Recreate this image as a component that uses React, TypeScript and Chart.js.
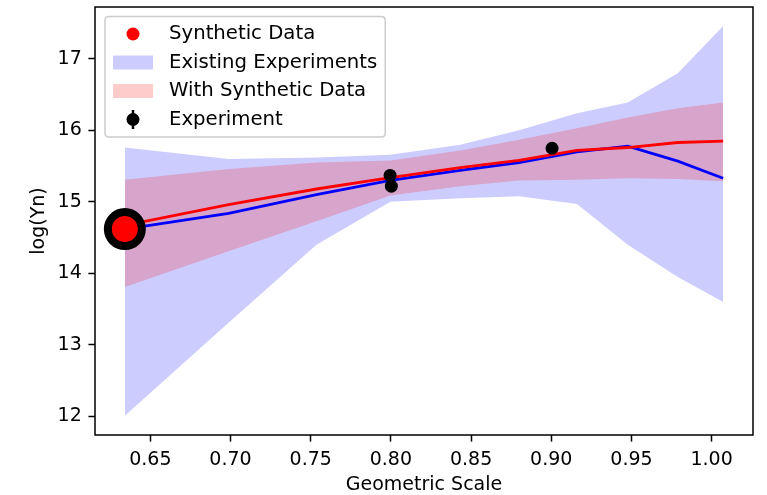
import React, { useEffect, useRef } from "react";
import { Chart, registerables } from "chart.js";

Chart.register(...registerables);

// ---- data ----
const geometricScale = [0.6341, 0.6988, 0.7536, 0.7997, 0.8432, 0.8799, 0.916, 0.9477, 0.9789, 1.0072];
const existingUpper = [15.76, 15.6, 15.62, 15.66, 15.8, 16.0, 16.24, 16.39, 16.8, 17.46];
const existingLower = [12.01, 13.31, 14.4, 15.0, 15.05, 15.08, 14.97, 14.4, 13.95, 13.6];
const existingMean = [14.62, 14.84, 15.1, 15.3, 15.44, 15.55, 15.7, 15.78, 15.57, 15.33];
const synthUpper = [15.31, 15.46, 15.55, 15.58, 15.72, 15.87, 16.03, 16.18, 16.31, 16.39];
const synthLower = [13.81, 14.31, 14.73, 15.09, 15.22, 15.3, 15.31, 15.33, 15.32, 15.29];
const synthMean = [14.67, 14.96, 15.18, 15.34, 15.48, 15.58, 15.72, 15.76, 15.83, 15.85];
const experimentX = [0.7995, 0.8003, 0.9005];
const experimentY = [15.37, 15.22, 15.75];
const syntheticX = [0.6341];
const syntheticY = [14.62];
const xTicks = [0.65, 0.7, 0.75, 0.8, 0.85, 0.9, 0.95, 1.0];
const yTicks = [12, 13, 14, 15, 16, 17];
const legendLabels = ["Synthetic Data", "Existing Experiments", "With Synthetic Data", "Experiment"];

const X_MIN = 0.6155;
const X_MAX = 1.0258;
const Y_MIN = 11.74;
const Y_MAX = 17.725;

const FONT = "DejaVu Sans";
const FS = 19;
const LEG_FS = 19.7;
const LEG_EM = 20;

const BLUE_FILL = "rgba(0,0,255,0.2)";
const RED_FILL = "rgba(255,0,0,0.2)";

const pts = (xs: number[], ys: number[]) => xs.map((x, i) => ({ x, y: ys[i] }));

const mplPlugin = {
  id: "mplFrame",
  afterDraw(chart: any) {
    const { ctx, chartArea } = chart;
    const { left, right, top, bottom } = chartArea;
    ctx.save();
    // spines
    ctx.strokeStyle = "black";
    ctx.lineWidth = 1.5;
    ctx.strokeRect(left, top, right - left, bottom - top);

    // legend
    const em = LEG_EM;
    ctx.font = `${LEG_FS}px "${FONT}"`;
    const bpad = 0.4 * em;
    const lx = left + 0.5 * em;
    const ly = top + 0.5 * 19;
    const handleX = lx + bpad;
    const handleW = 2 * em;
    const textX = handleX + handleW + 0.8 * em;
    let maxW = 0;
    legendLabels.forEach((l) => {
      maxW = Math.max(maxW, ctx.measureText(l).width);
    });
    const rowH = 19;
    const gap = 9.5;
    const w = textX + maxW + bpad - lx;
    const h = bpad * 2 + legendLabels.length * rowH + (legendLabels.length - 1) * gap;
    const r = 4;
    ctx.beginPath();
    ctx.moveTo(lx + r, ly);
    ctx.lineTo(lx + w - r, ly);
    ctx.quadraticCurveTo(lx + w, ly, lx + w, ly + r);
    ctx.lineTo(lx + w, ly + h - r);
    ctx.quadraticCurveTo(lx + w, ly + h, lx + w - r, ly + h);
    ctx.lineTo(lx + r, ly + h);
    ctx.quadraticCurveTo(lx, ly + h, lx, ly + h - r);
    ctx.lineTo(lx, ly + r);
    ctx.quadraticCurveTo(lx, ly, lx + r, ly);
    ctx.closePath();
    ctx.fillStyle = "rgba(255,255,255,0.8)";
    ctx.fill();
    ctx.strokeStyle = "#cccccc";
    ctx.lineWidth = 1.5;
    ctx.stroke();

    const cx = handleX + handleW / 2;
    legendLabels.forEach((label, i) => {
      const cy = ly + bpad + rowH / 2 + i * (rowH + gap);
      if (i === 0) {
        ctx.fillStyle = "red";
        ctx.beginPath();
        ctx.arc(cx, cy, 6.5, 0, Math.PI * 2);
        ctx.fill();
      } else if (i === 1 || i === 2) {
        ctx.fillStyle = i === 1 ? BLUE_FILL : RED_FILL;
        ctx.fillRect(handleX, cy - 0.35 * em, handleW, 0.7 * em);
      } else {
        ctx.strokeStyle = "black";
        ctx.lineWidth = 2.5;
        ctx.beginPath();
        ctx.moveTo(cx, cy - 9.5);
        ctx.lineTo(cx, cy + 9.5);
        ctx.stroke();
        ctx.fillStyle = "black";
        ctx.beginPath();
        ctx.arc(cx, cy, 6.5, 0, Math.PI * 2);
        ctx.fill();
      }
      ctx.fillStyle = "black";
      ctx.textBaseline = "middle";
      ctx.textAlign = "left";
      ctx.fillText(label, textX, cy);
    });
    ctx.restore();
  },
};

export default function App() {
  const ref = useRef<HTMLCanvasElement>(null);
  useEffect(() => {
    const canvas = ref.current!;
    const tickFont = { family: FONT, size: FS };
    const chart = new Chart(canvas, {
      type: "line",
      data: {
        datasets: [
          {
            label: "Existing upper",
            data: pts(geometricScale, existingUpper),
            fill: "+1",
            backgroundColor: BLUE_FILL,
            borderColor: "rgba(0,0,0,0)",
            borderWidth: 0,
            pointRadius: 0,
            order: 10,
          },
          {
            label: "Existing lower",
            data: pts(geometricScale, existingLower),
            fill: false,
            borderColor: "rgba(0,0,0,0)",
            borderWidth: 0,
            pointRadius: 0,
            order: 9,
          },
          {
            label: "Synthetic upper",
            data: pts(geometricScale, synthUpper),
            fill: "+1",
            backgroundColor: RED_FILL,
            borderColor: "rgba(0,0,0,0)",
            borderWidth: 0,
            pointRadius: 0,
            order: 8,
          },
          {
            label: "Synthetic lower",
            data: pts(geometricScale, synthLower),
            fill: false,
            borderColor: "rgba(0,0,0,0)",
            borderWidth: 0,
            pointRadius: 0,
            order: 7,
          },
          {
            label: "Existing mean",
            data: pts(geometricScale, existingMean),
            fill: false,
            borderColor: "blue",
            borderWidth: 2.8,
            pointRadius: 0,
            order: 6,
          },
          {
            label: "With Synthetic mean",
            data: pts(geometricScale, synthMean),
            fill: false,
            borderColor: "red",
            borderWidth: 2.8,
            pointRadius: 0,
            order: 5,
          },
          {
            label: "Experiment",
            data: pts(experimentX, experimentY),
            showLine: false,
            fill: false,
            pointRadius: 6.5,
            pointBackgroundColor: "black",
            pointBorderWidth: 0,
            pointBorderColor: "black",
            order: 4,
          },
          {
            label: "Synthetic Data",
            data: pts(syntheticX, syntheticY),
            showLine: false,
            fill: false,
            pointRadius: 17,
            pointBorderWidth: 8,
            pointBackgroundColor: "red",
            pointBorderColor: "black",
            order: 3,
          },
        ],
      },
      options: {
        responsive: false,
        animation: false,
        events: [],
        layout: { autoPadding: false, padding: { left: 0, right: 14, top: 7, bottom: 0 } },
        elements: { line: { tension: 0 } },
        plugins: {
          legend: { display: false },
          tooltip: { enabled: false },
        },
        scales: {
          x: {
            type: "linear",
            min: X_MIN,
            max: X_MAX,
            afterBuildTicks: (s: any) => {
              s.ticks = xTicks.map((v) => ({ value: v }));
            },
            afterFit: (s: any) => {
              s.height = 60;
              s.paddingLeft = 0;
              s.paddingRight = 0;
              s.paddingTop = 0;
              s.paddingBottom = 0;
            },
            ticks: {
              callback: (v: any) => Number(v).toFixed(2),
              font: tickFont,
              color: "black",
              padding: 7.5,
              maxRotation: 0,
              autoSkip: false,
            },
            grid: {
              drawOnChartArea: false,
              drawTicks: true,
              tickLength: 6.6,
              tickWidth: 1.5,
              tickColor: "black",
            },
            border: { display: false },
            title: {
              display: true,
              text: "Geometric Scale",
              font: { family: FONT, size: FS, lineHeight: 1.2 },
              color: "black",
              padding: { top: 0, bottom: -1.5 },
            },
          },
          y: {
            type: "linear",
            min: Y_MIN,
            max: Y_MAX,
            afterBuildTicks: (s: any) => {
              s.ticks = yTicks.map((v) => ({ value: v }));
            },
            afterFit: (s: any) => {
              s.width = 95;
              s.paddingLeft = 0;
              s.paddingRight = 0;
              s.paddingTop = 0;
              s.paddingBottom = 0;
            },
            ticks: {
              callback: (v: any) => String(v),
              font: tickFont,
              color: "black",
              padding: 6.6,
              autoSkip: false,
            },
            grid: {
              drawOnChartArea: false,
              drawTicks: true,
              tickLength: 6.6,
              tickWidth: 1.5,
              tickColor: "black",
            },
            border: { display: false },
            title: {
              display: true,
              text: "log(Yn)",
              font: { family: FONT, size: FS, lineHeight: 1.2 },
              color: "black",
              padding: { top: 27.5, bottom: 0 },
            },
          },
        },
      },
      plugins: [mplPlugin],
    } as any);
    return () => chart.destroy();
  }, []);
  return (
    <div style={{ position: "fixed", left: 0, top: 0, width: 767, height: 495, background: "white" }}>
      <canvas ref={ref} width={767} height={495} style={{ width: 767, height: 495, display: "block" }} />
    </div>
  );
}
